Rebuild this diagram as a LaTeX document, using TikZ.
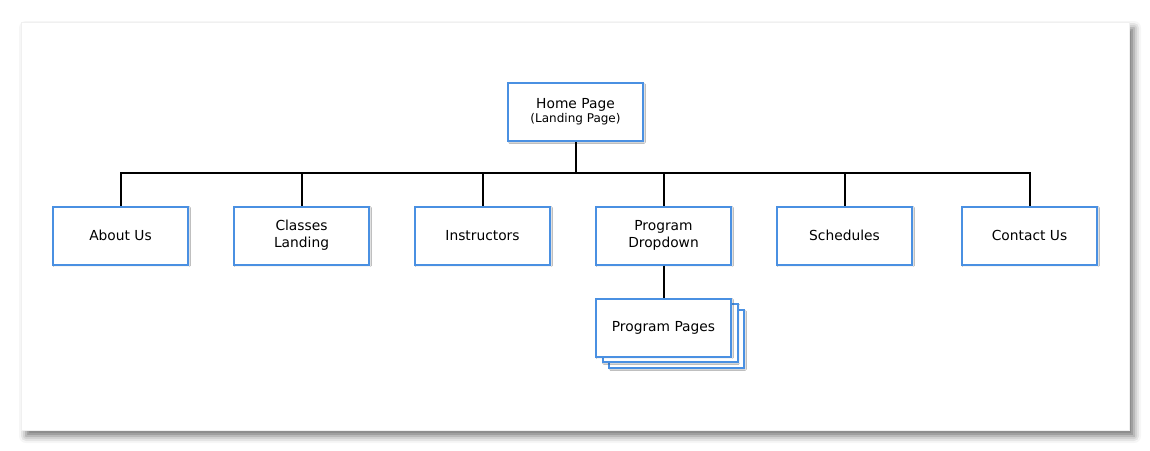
\documentclass[tikz,border=0pt]{standalone}
\usepackage{fontspec}
\setmainfont{DejaVu Sans}
\usetikzlibrary{shadows.blur}
\definecolor{boxblue}{HTML}{4A90E2}
\begin{document}
\begin{tikzpicture}[x=1pt,y=-1pt,
  page/.style={fill=white, draw=black!6, line width=0.5pt,
    blur shadow={shadow xshift=5pt, shadow yshift=-6pt, shadow blur radius=7pt, shadow opacity=55}},
  pagebox/.style={draw=boxblue, line width=2pt, fill=white, minimum width=135pt, minimum height=58pt,
    inner sep=0pt, align=center, font=\fontsize{13.8}{17}\selectfont,
    blur shadow={shadow xshift=1.2pt, shadow yshift=-1.2pt, shadow blur radius=1.2pt, shadow opacity=25}},
  link/.style={draw=black, line width=2pt}]
\useasboundingbox (0,0) rectangle (1150,450);
% sheet
\path[page] (21,22) rectangle (1129,430);
% root
\node[pagebox] (home) at (575.5,112) {\raisebox{-1pt}{Home Page}\\[-2pt]{\fontsize{12}{14}\selectfont (Landing Page)}};
% first level
\node[pagebox] (about) at (120.5,235.5) {\raisebox{-1pt}{About Us}};
\node[pagebox] (classes) at (301.5,235.5) {Classes\\Landing};
\node[pagebox] (instr) at (482.5,235.5) {\raisebox{-1pt}{Instructors}};
\node[pagebox] (prog) at (663.5,235.5) {Program\\Dropdown};
\node[pagebox] (sched) at (844.5,235.5) {\raisebox{-1pt}{Schedules}};
\node[pagebox] (contact) at (1029.5,235.5) {\raisebox{-1pt}{Contact Us}};
% stacked program pages
\node[pagebox] (pp3) at (676.5,339) {};
\node[pagebox] (pp2) at (670,333) {};
\node[pagebox] (pp) at (663.5,327.5) {\raisebox{-1pt}{Program Pages}};
% connectors
\coordinate (bus) at (575.5,173);
\draw[link] (home.south) -- (bus);
\draw[link] (about.north) |- (bus) -| (contact.north);
\foreach \n in {classes,instr,prog,sched}
  \draw[link] (\n.north) -- (\n.north |- bus);
\draw[link] (prog.south) -- (pp.north);
\end{tikzpicture}
\end{document}
